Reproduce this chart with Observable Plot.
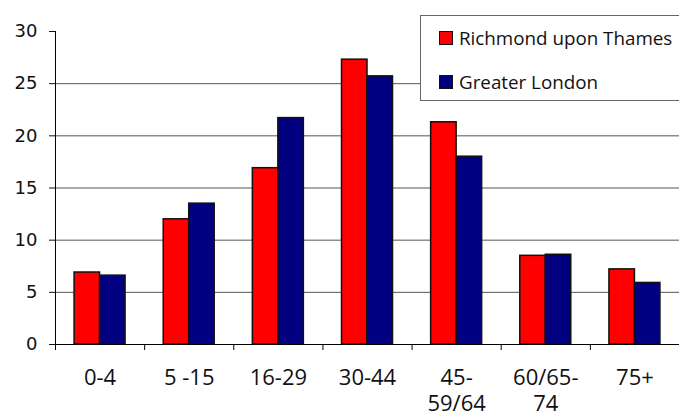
<!DOCTYPE html>
<html>
<head>
<meta charset="utf-8">
<script src="https://cdn.jsdelivr.net/npm/d3@7"></script>
<script src="https://cdn.jsdelivr.net/npm/@observablehq/plot@0.6"></script>
<style>
  html, body { margin: 0; padding: 0; overflow: hidden; background: #fff; }
  #wrap { position: relative; width: 679px; height: 414px; overflow: hidden; }
  #wrap svg { display: block; }
  #legend {
    position: absolute; left: 420px; top: 15px; width: 275px; height: 84px;
    border: 1px solid #666; background: #fff;
    font-family: "Open Sans", sans-serif; font-size: 18.8px; color: #111;
  }
  .row { position: absolute; left: 18px; display: flex; align-items: center; height: 24px; white-space: nowrap; }
  .sw { width: 14px; height: 14px; border: 1.5px solid #111; margin-right: 6px; box-sizing: border-box; }
</style>
</head>
<body>
<div id="wrap"></div>
<script>
// ---- data ----
const categories = ["0-4", "5 -15", "16-29", "30-44", "45-59/64", "60/65-74", "75+"];
const tickLabels = ["0-4", "5 -15", "16-29", "30-44", "45-\n59/64", "60/65-\n74", "75+"];
const seriesNames = ["Richmond upon Thames", "Greater London"];
const richmond = [6.9, 12.0, 16.9, 27.3, 21.3, 8.5, 7.2];
const london   = [6.6, 13.5, 21.7, 25.7, 18.0, 8.6, 5.9];
const gridValues = [5, 10, 15, 20, 25];
const colors = ["#ff0000", "#000080"];

// ---- layout ----
const W = 679, H = 414, mL = 55, mR = 0, mT = 31, mB = 70;
const band = (W - mL - mR) / categories.length;
const barW = 25.5;

const rows = (vals) => categories.map((c, i) => ({cat: c, value: vals[i]}));

const chart = Plot.plot({
  width: W, height: H,
  marginLeft: mL, marginRight: mR, marginTop: mT, marginBottom: mB,
  style: {fontFamily: "DejaVu Sans, sans-serif", fontSize: "18px", color: "#111", background: "#fff"},
  x: {type: "band", domain: categories, padding: 0, round: false, axis: null},
  y: {domain: [0, 30], ticks: 6, tickSize: 6, tickPadding: 12, label: null},
  marks: [
    Plot.ruleY(gridValues, {stroke: "#555", strokeWidth: 1}),
    Plot.barY(rows(richmond), {x: "cat", y: "value", fill: colors[0], stroke: "#111", strokeWidth: 1.5,
      insetLeft: band / 2 - barW, insetRight: band / 2}),
    Plot.barY(rows(london), {x: "cat", y: "value", fill: colors[1], stroke: "#111", strokeWidth: 1.5,
      insetLeft: band / 2, insetRight: band / 2 - barW}),
    Plot.ruleY([0], {stroke: "#000", strokeWidth: 1}),
    Plot.ruleX([categories[0]], {x: d => d, dx: -band / 2, stroke: "#000", strokeWidth: 1, insetBottom: -6}),
    Plot.ruleX(categories, {x: d => d, dx: band / 2, y1: 0, y2: 0, insetBottom: -6, stroke: "#000", strokeWidth: 1}),
    Plot.text(categories, {x: d => d, y: 0, text: (d, i) => tickLabels[i], dy: 22.5, lineAnchor: "top",
      lineHeight: 1.18, fill: "#111", fontSize: 22, fontFamily: "Open Sans, sans-serif"})
  ]
});
document.getElementById("wrap").appendChild(chart);

const legend = document.createElement("div");
legend.id = "legend";
seriesNames.forEach((name, i) => {
  const row = document.createElement("div");
  row.className = "row";
  row.style.top = (10 + i * 44) + "px";
  const sw = document.createElement("span");
  sw.className = "sw";
  sw.style.background = colors[i];
  const t = document.createElement("span");
  t.textContent = name;
  row.appendChild(sw); row.appendChild(t);
  legend.appendChild(row);
});
document.getElementById("wrap").appendChild(legend);
</script>
</body>
</html>
